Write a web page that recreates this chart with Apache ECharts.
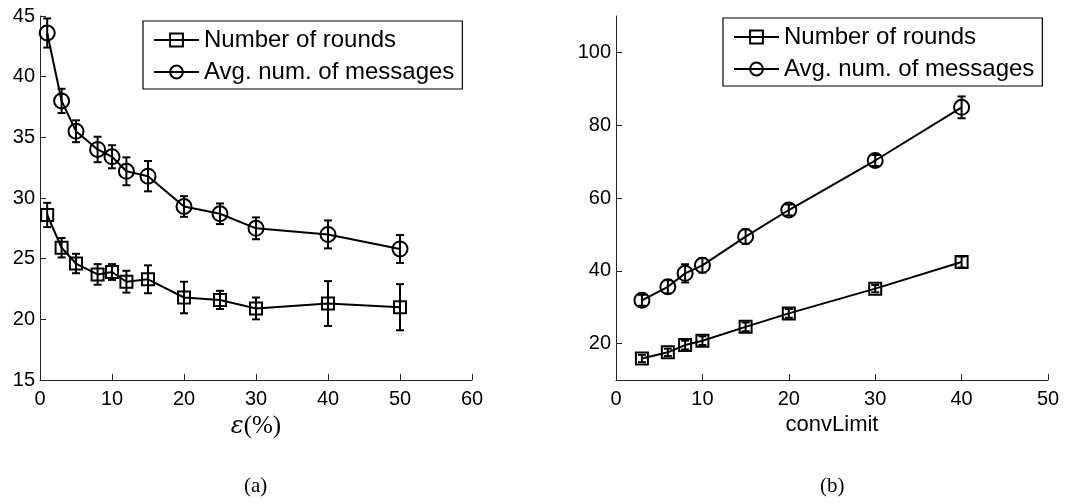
<!DOCTYPE html>
<html>
<head>
<meta charset="utf-8">
<script src="https://cdn.jsdelivr.net/npm/echarts@6/dist/echarts.min.js"></script>
<style>
html,body{margin:0;padding:0;background:#fff;}
#chart{width:1067px;height:504px;}
</style>
</head>
<body>
<div id="chart"></div>
<script>
// ---- data ----
const seriesNames = ['Number of rounds', 'Avg. num. of messages'];

// (a) epsilon (%)
const epsX = [1, 3, 5, 8, 10, 12, 15, 20, 25, 30, 40, 50];
const roundsA = [28.6, 25.9, 24.6, 23.7, 23.9, 23.1, 23.3, 21.8, 21.6, 20.9, 21.3, 21.0];
const roundsAErr = [1.0, 0.8, 0.8, 0.85, 0.65, 0.9, 1.15, 1.3, 0.75, 0.9, 1.85, 1.9];
const msgsA = [43.6, 38.0, 35.5, 34.0, 33.4, 32.2, 31.8, 29.3, 28.7, 27.5, 27.0, 25.8];
const msgsAErr = [1.2, 1.0, 0.9, 1.05, 0.95, 1.15, 1.25, 0.85, 0.85, 0.9, 1.15, 1.15];

// (b) convLimit
const convX = [3, 6, 8, 10, 15, 20, 30, 40];
const roundsB = [15.9, 17.6, 19.6, 20.8, 24.6, 28.3, 35.1, 42.4];
const roundsBErr = [1.0, 1.0, 1.2, 1.2, 1.2, 1.2, 1.0, 1.5];
const msgsB = [31.9, 35.6, 39.3, 41.5, 49.4, 56.7, 70.3, 84.9];
const msgsBErr = [1.5, 1.8, 2.5, 2.0, 2.0, 1.5, 1.5, 3.0];

const yTicksB = [20, 40, 60, 80, 100];

// ---- build ----
const pts = (xs, ys) => xs.map((x, i) => [x, ys[i]]);
const errs = (xs, ys, es) => xs.map((x, i) => [x, ys[i] - es[i], ys[i] + es[i]]);

const BLACK = '#000';
const AX = '#262626';
const SANS = 'Liberation Sans, Arial, sans-serif';

function errRender(params, api) {
  const x = api.value(0), lo = api.value(1), hi = api.value(2);
  const p1 = api.coord([x, lo]);
  const p2 = api.coord([x, hi]);
  const cw = 4;
  const st = { stroke: BLACK, lineWidth: 2 };
  return {
    type: 'group',
    children: [
      { type: 'line', shape: { x1: p1[0], y1: p1[1], x2: p2[0], y2: p2[1] }, style: st },
      { type: 'line', shape: { x1: p1[0] - cw, y1: p1[1], x2: p1[0] + cw, y2: p1[1] }, style: st },
      { type: 'line', shape: { x1: p2[0] - cw, y1: p2[1], x2: p2[0] + cw, y2: p2[1] }, style: st }
    ]
  };
}

function lineSeries(name, data, sym, size, idx) {
  return {
    name: name, type: 'line', data: data,
    xAxisIndex: idx, yAxisIndex: idx,
    symbol: sym, symbolSize: size, showAllSymbol: true,
    lineStyle: { color: BLACK, width: 2 },
    itemStyle: { color: 'rgba(255,255,255,0)', borderColor: BLACK, borderWidth: 2 },
    emphasis: { disabled: true },
    animation: false, z: 3
  };
}
function errSeries(data, idx) {
  return {
    type: 'custom', data: data, xAxisIndex: idx, yAxisIndex: idx,
    encode: { x: 0, y: [1, 2] },
    renderItem: errRender, animation: false, silent: true, z: 4
  };
}

const axisCommon = {
  axisLine: { show: true, onZero: false, lineStyle: { color: AX, width: 1 } },
  axisTick: { show: true, inside: true, length: 6, lineStyle: { color: AX } },
  splitLine: { show: false },
  axisLabel: { color: BLACK, fontSize: 20, fontFamily: SANS }
};

function mkLegend(left, top) {
  return {
    data: seriesNames,
    orient: 'vertical', left: left, top: top,
    borderColor: BLACK, borderWidth: 1.2, borderRadius: 0,
    padding: [7, 8, 5, 10],
    itemWidth: 45, itemHeight: 16, itemGap: 8,
    selectedMode: false,
    textStyle: { color: BLACK, fontSize: 24, fontFamily: SANS }
  };
}

const option = {
  backgroundColor: '#fff',
  animation: false,
  grid: [
    { left: 40, top: 16, width: 432, height: 364 },
    { left: 616, top: 16, width: 432, height: 364 }
  ],
  legend: [mkLegend(143, 21), mkLegend(723, 18)],
  xAxis: [
    Object.assign({}, axisCommon, {
      type: 'value', gridIndex: 0, min: 0, max: 60, interval: 10,
      axisLabel: Object.assign({}, axisCommon.axisLabel, { margin: 9 }),
      name: '{e|ε}{p|(%)}', nameLocation: 'middle', nameGap: 30,
      nameTextStyle: {
        rich: {
          e: { fontFamily: 'DejaVu Serif, serif', fontStyle: 'italic', fontSize: 24, color: BLACK },
          p: { fontFamily: 'Liberation Serif, serif', fontSize: 25, color: BLACK }
        }
      }
    }),
    Object.assign({}, axisCommon, {
      type: 'value', gridIndex: 1, min: 0, max: 50, interval: 10,
      axisLabel: Object.assign({}, axisCommon.axisLabel, { margin: 9 }),
      name: 'convLimit', nameLocation: 'middle', nameGap: 30,
      nameTextStyle: { color: BLACK, fontSize: 22, fontFamily: SANS, verticalAlign: 'top' }
    })
  ],
  yAxis: [
    Object.assign({}, axisCommon, {
      type: 'value', gridIndex: 0, min: 15, max: 45, interval: 5,
      axisLabel: Object.assign({}, axisCommon.axisLabel, { margin: 5 })
    }),
    Object.assign({}, axisCommon, {
      type: 'value', gridIndex: 1, min: 10, max: 110,
      axisTick: Object.assign({}, axisCommon.axisTick, { customValues: yTicksB }),
      axisLabel: Object.assign({}, axisCommon.axisLabel, { margin: 5, customValues: yTicksB })
    })
  ],
  series: [
    lineSeries(seriesNames[0], pts(epsX, roundsA), 'rect', 12, 0),
    lineSeries(seriesNames[1], pts(epsX, msgsA), 'circle', 15, 0),
    errSeries(errs(epsX, roundsA, roundsAErr), 0),
    errSeries(errs(epsX, msgsA, msgsAErr), 0),
    lineSeries(seriesNames[0], pts(convX, roundsB), 'rect', 12, 1),
    lineSeries(seriesNames[1], pts(convX, msgsB), 'circle', 15, 1),
    errSeries(errs(convX, roundsB, roundsBErr), 1),
    errSeries(errs(convX, msgsB, msgsBErr), 1)
  ],
  graphic: [
    { type: 'text', left: 256 - 12, top: 476, style: { text: '(a)', fontFamily: 'Liberation Serif, serif', fontSize: 21, fill: BLACK } },
    { type: 'text', left: 832 - 12, top: 476, style: { text: '(b)', fontFamily: 'Liberation Serif, serif', fontSize: 21, fill: BLACK } }
  ]
};

const chart = echarts.init(document.getElementById('chart'), null, { renderer: 'canvas' });
chart.setOption(option);
</script>
</body>
</html>
